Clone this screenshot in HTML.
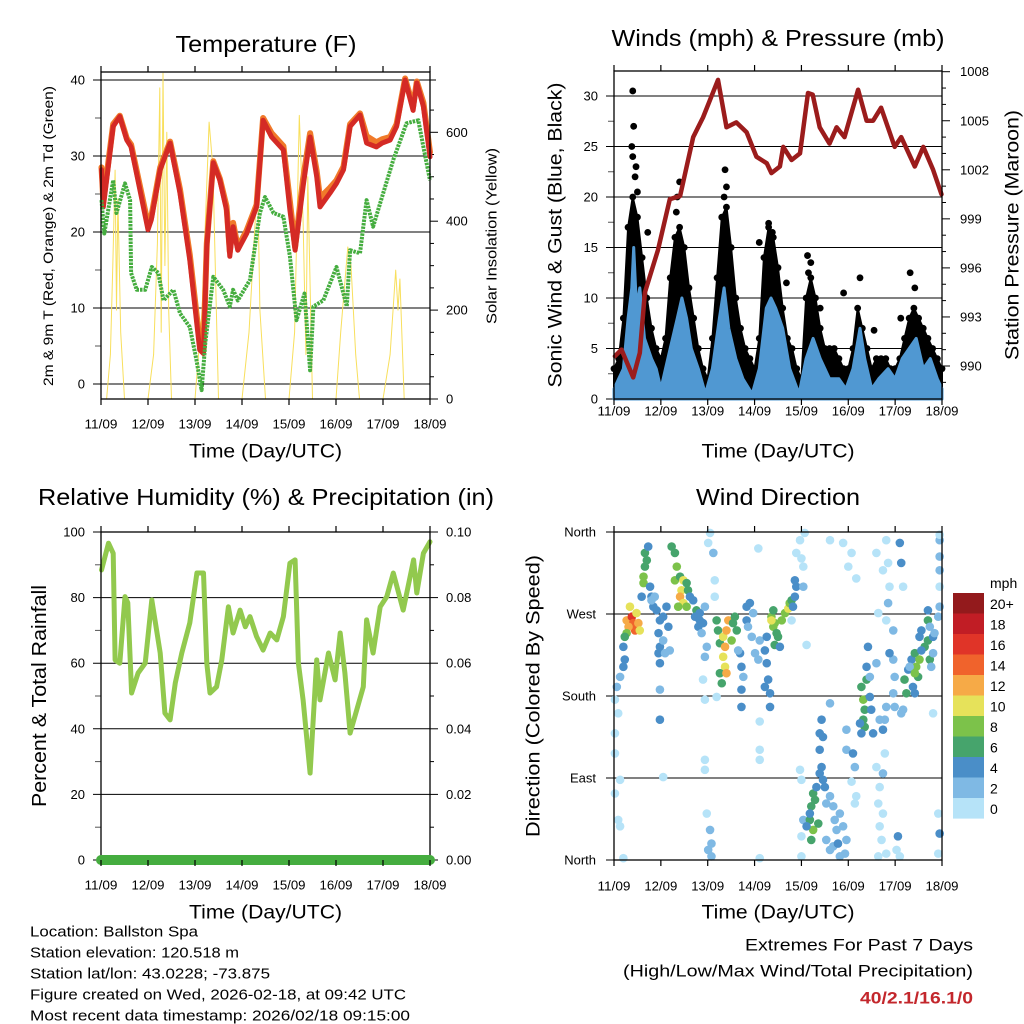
<!DOCTYPE html>
<html><head><meta charset="utf-8"><style>
html,body{margin:0;padding:0;background:#fff}
svg{display:block;font-family:"Liberation Sans",sans-serif}
</style></head><body>
<svg id="fig" xmlns="http://www.w3.org/2000/svg" width="1024" height="1024" viewBox="0 0 1024 1024">
<rect width="1024" height="1024" fill="#fff"/>
</svg>
<script>
// ---------- DATA ----------
const dayLabels = ["11/09","12/09","13/09","14/09","15/09","16/09","17/09","18/09"];
const tempTicks = [0,10,20,30,40];
const solarTicks = [0,200,400,600];
const windTicks = [0,5,10,15,20,25,30];
const presTicks = [990,993,996,999,1002,1005,1008];
const rhTicks = [0,20,40,60,80,100];
const rainTicks = ["0.00","0.02","0.04","0.06","0.08","0.10"];
const dirTicks = ["North","East","South","West","North"];
const speedBins = ["0","2","4","6","8","10","12","14","16","18","20+"];

const tempT = [0.01,0.03,0.05,0.26,0.40,0.55,0.64,0.83,1.0,1.07,1.26,1.47,1.68,1.89,2.1,2.18,2.25,2.39,2.53,2.67,2.74,2.81,2.91,3.1,3.31,3.45,3.63,3.88,4.02,4.13,4.3,4.45,4.59,4.66,4.87,5.01,5.16,5.3,5.51,5.65,5.86,5.98,6.15,6.29,6.47,6.64,6.72,6.86,7.0];
const tempRed = [28.2,26,23.3,33.9,35.2,32.1,31.2,25.5,20.3,21.6,28.2,31.7,25.1,16.3,4.5,4.0,18.1,29.1,26.8,22.9,16.8,20.7,17.6,19.8,23.3,34.7,32.5,30.8,22.9,17.6,26,32.5,27.3,23.3,25.1,26.4,28.2,33.9,35.4,31.7,31.2,31.7,32.1,33.9,40,36,39.6,36.5,29.9];
const tempOrange = [28.5,26.5,24,34.2,35.3,32.3,31.5,26,21,22,28.5,31.9,25.6,17,5.5,4.6,18.5,29.3,27,23.4,17.4,21.2,18,20.2,23.6,35,33,31.3,24,18,27,33,28,24.5,25.8,26.8,28.6,34.2,35.6,32.6,31.8,32.2,32.5,34.2,40.2,36.5,39.8,37,30.5];
const dewT = [0.01,0.07,0.26,0.33,0.51,0.62,0.64,0.76,0.94,1.08,1.22,1.33,1.54,1.68,1.89,2.03,2.14,2.22,2.39,2.6,2.74,2.81,2.91,3.17,3.38,3.49,3.67,3.88,4.02,4.16,4.33,4.45,4.52,4.73,5.01,5.23,5.3,5.51,5.65,5.79,5.94,6.22,6.5,6.75,6.86,7.0];
const dewVal = [24.2,19.8,26.8,22.5,26.4,24.2,14.6,12.4,12.4,15.4,14.6,11,12.4,9.3,7.5,3.2,-0.8,5.4,14.1,12.4,10.2,12.4,11,13.7,22.5,24.6,22.5,22,16.8,8.4,11.9,1.8,10.2,11,15.4,10.2,17.6,17.2,24.2,20.7,23.8,29.5,34.3,34.7,31.2,26.8];
const solarT = [0,0.12,0.2,0.25,0.3,0.33,0.36,0.42,0.5,1.0,1.12,1.2,1.25,1.28,1.32,1.36,1.4,1.44,1.5,2.0,2.15,2.3,2.38,2.5,3.0,3.15,3.28,3.33,3.38,3.5,4.0,4.12,4.22,4.3,4.36,4.4,4.5,5.0,5.1,5.25,5.32,5.42,5.5,6.0,6.15,6.27,6.32,6.36,6.45,7.0];
const solarVal = [0,0,100,300,515,200,450,150,0,0,100,350,700,150,733,300,600,200,0,0,200,623,520,0,0,150,400,515,200,0,0,150,638,400,100,500,0,0,150,342,300,100,0,0,100,290,200,270,0,0];

const presT = [0.02,0.16,0.41,0.55,0.66,0.94,1.19,1.41,1.69,1.9,2.22,2.4,2.61,2.83,3.04,3.26,3.36,3.54,3.61,3.79,3.97,4.14,4.24,4.39,4.6,4.75,4.92,5.21,5.39,5.53,5.7,5.99,6.13,6.42,6.6,6.81,6.99];
const presVal = [990.6,991,989.3,990.8,994.5,997.1,1000.2,1000.4,1004,1005.2,1007.5,1004.6,1004.9,1004.3,1002.8,1002.4,1001.8,1002.2,1003.4,1002.6,1003,1006.7,1006.6,1004.6,1003.6,1004.6,1004,1006.9,1005,1005,1005.8,1003.4,1004,1002.2,1003.4,1002,1000.5];
const windT = [0,0.1,0.2,0.3,0.38,0.42,0.48,0.55,0.65,0.8,0.9,1.0,1.1,1.2,1.35,1.45,1.55,1.65,1.8,1.95,2.1,2.25,2.35,2.45,2.6,2.75,2.95,3.1,3.25,3.35,3.45,3.6,3.75,3.95,4.1,4.25,4.4,4.6,4.8,4.95,5.1,5.25,5.35,5.5,5.65,5.85,6.0,6.15,6.3,6.45,6.6,6.75,6.9,7.0];
const windVal = [1,2,3,8,11,15,9,11,6,4,3,1,3,5,8,10,8,5,3,0.5,3,8,11,7,4,2,0.5,3,9,10,9,7,3,0.5,4,6,4,2,2,1,3,7,4,1,2,3,2,4,5,6,3,4,2,1];
const gustTop = [3,4,8,17,20,18,14,10,7,5,4,6,12,16,17,15,11,8,5,3,2,6,12,18,19,15,10,7,5,4,3,6,14,17,16,13,9,6,5,3,2,10,12,10,7,5,5,5,4,3,3,5,9,7,5,3,4,4,4,3,3,4,6,8,9,8,7,6,5,4,3];
const gustPeakT = [0.4,0.42,0.45,0.4,0.5,0.72,1.4,1.35,2.37,2.35,3.3,3.38,3.1,4.13,4.2,4.4,4.9,5.25,5.55,6.12,6.32,6.42,3.68,0.38,0.47,1.33,2.4,3.33,4.15];
const gustPeakV = [30.5,27,22,24,20.5,16.5,21.5,20,22.7,20,17.4,16.5,15.5,14.2,13.5,9,10.5,12,6.8,8,12.5,11,11.5,25,23,18.5,21,16,12.5];

const rhT = [0.01,0.16,0.26,0.3,0.4,0.51,0.57,0.65,0.79,0.94,1.08,1.26,1.36,1.47,1.58,1.72,1.89,2.04,2.18,2.25,2.32,2.46,2.57,2.71,2.81,2.96,3.07,3.17,3.31,3.45,3.6,3.74,3.88,4.02,4.13,4.2,4.3,4.45,4.59,4.66,4.84,4.98,5.09,5.19,5.3,5.44,5.58,5.65,5.79,5.94,6.08,6.22,6.43,6.65,6.72,6.86,7.0];
const rhVal = [88.4,96.6,93.5,61,60,80.3,78.4,50.9,57,60,79.3,63.1,44.8,42.7,54,63.1,72.3,87.5,87.5,60,50.9,52.8,61,77.2,69.2,76.2,71.1,74.2,68.1,64,69.2,67.1,74.2,90.5,91.5,60,48.8,26.5,61,48.8,63.1,54.9,69.2,57,38.7,45.7,52.8,73.2,63.1,77.2,80.3,87.5,76.2,91.5,81.4,93.5,97];
const rainT = [0,7];
const rainVal = [0,0];

// wind direction observations: [day, degrees, speed mph]
const dirObs = [
[0.27,263,12],[0.38,267,16],[0.41,260,14],[0.45,252,14],[0.52,260,12],[0.34,278,10],[0.48,271,10],[0.31,256,13],[0.55,252,10],[0.27,249,8],[0.23,245,6],
[0.2,234,4],[0.23,220,4],[0.2,212,4],[0.13,201,2],[0.06,190,2],[0.02,176,1],[0.09,161,1],[0.02,139,1],[0.02,117,1],[0.13,88,1],[0.02,73,1],[0.09,44,1],[0.13,37,1],[0.2,2,1],
[0.66,337,6],[0.66,322,6],[0.63,311,8],[0.63,304,8],[0.7,329,6],[0.73,344,4],[0.59,289,4],[0.77,300,4],[0.8,289,4],[0.84,278,4],[0.91,274,4],[0.98,263,4],[0.95,249,4],[0.98,234,4],[1.05,267,4],[1.12,278,4],[1.16,256,4],[1.05,241,2],[0.95,227,4],[0.98,216,4],[1.19,230,2],[1.09,227,2],[0.98,187,2],[0.98,154,4],[1.05,91,1],[0.8,285,2],[0.87,289,2],
[1.23,344,6],[1.3,337,6],[1.34,322,8],[1.3,307,8],[1.41,311,6],[1.48,307,10],[1.44,296,10],[1.41,289,12],[1.48,282,10],[1.37,278,8],[1.55,278,8],[1.58,296,6],[1.55,304,6],[1.62,289,4],[1.69,285,4],[1.76,274,6],[1.73,267,4],[1.83,263,4],[1.8,256,4],[1.9,260,4],[1.87,249,2],[1.83,271,4],[1.94,278,2],[1.98,234,2],[1.94,223,2],[2.15,307,1],[2.15,289,1],[2.12,337,2],[2.01,348,1],[2.05,359,1],[1.98,51,1],[2.05,33,2],[2.08,18,2],[2.01,11,2],[2.08,4,2],[1.94,110,1],[1.94,99,1],[1.94,176,1],[2.19,179,1],[1.9,198,1],
[2.19,263,6],[2.22,252,6],[2.26,238,6],[2.33,245,10],[2.4,252,12],[2.37,234,12],[2.33,223,10],[2.37,212,10],[2.26,205,6],[2.3,194,6],[2.44,263,12],[2.54,260,6],[2.58,267,6],[2.51,241,8],[2.62,252,6],[2.4,205,12],[2.69,227,4],[2.72,212,4],[2.76,201,2],[2.72,187,4],[2.65,230,2],[2.83,278,4],[2.9,282,4],[2.83,263,4],[2.86,256,2],[2.97,271,2],[2.94,245,2],[3.01,227,2],[3.08,220,2],[3.11,241,2],[3.22,230,4],[3.26,216,4],[3.29,198,4],[3.22,190,4],[3.33,183,4],[3.33,168,4],[3.11,152,1],[2.72,168,4],[3.08,342,1],[3.11,121,1],[3.11,110,1],[3.11,2,1],
[3.36,267,8],[3.4,256,8],[3.47,249,6],[3.43,260,8],[3.58,263,8],[3.65,271,8],[3.72,276,10],[3.75,282,8],[3.79,285,6],[3.82,278,4],[3.86,289,4],[3.89,300,4],[3.86,307,4],[3.4,274,6],[3.36,263,10],[3.5,245,6],[3.43,236,6],[3.54,234,4],[3.26,245,4],[3.79,263,1],[4.04,300,2],[4.04,322,1],[3.89,337,1],[3.97,351,1],[4.07,359,1],[4.0,331,1],[4.11,236,1],
[3.97,99,1],[4.0,88,1],[4.04,44,2],[4.0,26,1],[4.0,4,1],[4.25,73,6],[4.21,59,6],[4.18,44,6],[4.25,33,8],[4.21,22,6],[4.18,51,4],[4.11,37,4],[4.29,66,6],[4.36,40,6],[4.32,80,4],[4.39,95,4],[4.46,88,4],[4.43,102,4],[4.39,121,4],[4.46,135,4],[4.39,139,4],[4.5,80,4],[4.61,70,2],[4.68,59,2],[4.71,44,2],[4.75,33,2],[4.82,51,2],[4.89,37,2],[4.96,22,2],[4.93,7,2],[4.82,4,2],[4.68,15,2],[4.78,18,4],[4.53,22,2],[4.61,11,2],[4.43,154,4],[4.53,62,2],[4.96,121,2],[5.1,117,4],[5.14,102,2],[4.61,172,2],[4.96,143,2],[5.07,86,1],[5.17,70,1],[5.14,62,1],[4.61,351,1],[4.89,348,1],[5.07,337,1],[5.0,322,1],[5.17,309,1],
[5.28,190,6],[5.32,176,8],[5.35,165,6],[5.32,154,6],[5.35,146,6],[5.25,150,4],[5.39,198,6],[5.46,179,4],[5.49,165,4],[5.53,139,4],[5.28,139,4],[5.39,212,4],[5.42,234,4],[5.6,216,2],[5.46,201,2],[5.67,154,2],[5.74,143,4],[5.78,154,2],[5.81,168,2],[5.96,183,2],[5.99,201,2],[5.96,220,2],[5.88,227,4],[5.99,168,2],[6.13,161,2],[5.96,252,2],[5.81,263,1],[5.85,282,2],[5.64,271,1],[5.6,337,1],[5.81,351,1],[5.74,318,1],[5.85,326,1],[5.88,300,1],[6.17,300,1],[6.1,348,4],[6.13,326,4],[5.6,102,1],[5.67,80,1],[5.74,95,2],[5.64,62,1],[5.67,37,1],[5.71,22,1],[5.81,7,1],[5.64,4,1],[5.74,51,1],[6.06,26,4],[6.03,11,1],[6.1,4,1],[5.78,117,1],
[6.2,198,6],[6.24,183,6],[6.28,209,4],[6.35,220,4],[6.42,227,6],[6.45,212,8],[6.49,201,6],[6.38,190,4],[6.42,183,4],[6.52,245,4],[6.56,252,4],[6.63,234,6],[6.7,241,6],[6.7,263,6],[6.74,220,6],[6.81,245,4],[6.81,227,2],[6.7,274,4],[6.77,212,2],[6.84,249,2],[6.56,230,4],[6.31,212,2],[6.52,220,8],[6.42,205,8],[6.17,165,2],[6.74,256,2],[6.92,267,2],[6.95,278,2],[6.95,300,1],[6.95,318,2],[6.95,333,2],[6.95,351,2],[6.95,357,1],[6.92,51,1],[6.95,29,4],[6.92,7,1],[6.81,161,1]
];

// ---------- RENDER ----------
const NS = "http://www.w3.org/2000/svg";
const svg = document.getElementById("fig");
function mk(tag, attrs, parent) {
  const e = document.createElementNS(NS, tag);
  for (const k in attrs) e.setAttribute(k, attrs[k]);
  (parent || svg).appendChild(e);
  return e;
}
function txt(s, x, y, size, anchor, parent, extra) {
  const a = {x:x, y:y, "font-size":size, "text-anchor":anchor||"middle", "dominant-baseline":"central", fill:"#000"};
  if (extra) for (const k in extra) a[k] = extra[k];
  const t = mk("text", a, parent);
  t.textContent = s;
  return t;
}
const P = {
  temp:{x0:101,x1:430,y0:72,y1:399},
  wind:{x0:614,x1:942,y0:71,y1:399},
  rh:{x0:101,x1:430,y0:532,y1:860},
  dir:{x0:614,x1:942,y0:532,y1:860}
};
function xs(p, t){ return p.x0 + t*(p.x1-p.x0)/7; }
const yTemp = v => 384 - v*7.6;
const ySolar = v => 399 - v*0.4445;
const yWind = v => 399 - v*10.1;
const yPres = v => 366 - (v-990)*16.35;
const yRH = v => 860 - v*3.28;
const yRain = v => 860 - v*3280;
const yDir = d => 860 - d*328/360;

function pts(p, T, V, fy){ return T.map((t,i)=> xs(p,t).toFixed(1)+","+fy(V[i]).toFixed(1)).join(" "); }

function dayAxis(p, labelY, titleY, g) {
  for (let i=0;i<8;i++){
    const x = xs(p,i);
    mk("line",{x1:x,y1:p.y1,x2:x,y2:p.y1+6,stroke:"#000","stroke-width":1.2},g);
    mk("line",{x1:x,y1:p.y0,x2:x,y2:p.y0-6,stroke:"#000","stroke-width":1.2},g);
    const l = txt(dayLabels[i], x, labelY, 13, "middle", g, {textLength:33, lengthAdjust:"spacingAndGlyphs"});
    
    
  }
  const tt = txt("Time (Day/UTC)", (p.x0+p.x1)/2, titleY, 19, "middle", g, {textLength:153, lengthAdjust:"spacingAndGlyphs"});
  
  
}
function frame(p, g){
  const f = mk("rect",{x:p.x0,y:p.y0,width:p.x1-p.x0,height:p.y1-p.y0,fill:"none",stroke:"#000","stroke-width":1.3},g);
  
  
}
function grid(p, y, g){
  const l = mk("line",{x1:p.x0-8,y1:y,x2:p.x1,y2:y,stroke:"#000","stroke-width":1},g);
  
  
}
function rightTick(p, y, g, len){ mk("line",{x1:p.x1,y1:y,x2:p.x1+(len||6),y2:y,stroke:"#000","stroke-width":1},g); }
function leftMinor(p, y, g){ mk("line",{x1:p.x0-6,y1:y,x2:p.x0,y2:y,stroke:"#555","stroke-width":1},g); }

// ===== Temperature panel =====
const gT = mk("g",{});


const tTitle = txt("Temperature (F)", 266, 44, 23, "middle", gT, {textLength:181, lengthAdjust:"spacingAndGlyphs"});


tempTicks.forEach(v=>{
  grid(P.temp, yTemp(v), gT);
  const l = txt(String(v), 85, yTemp(v), 13, "end", gT);
  
  
});
[5,15,25,35].forEach(v=>leftMinor(P.temp, yTemp(v), gT));
mk("line",{x1:P.temp.x0,y1:80,x2:P.temp.x1+6,y2:80,stroke:"#000","stroke-width":1},gT);
solarTicks.forEach(v=>{
  rightTick(P.temp, ySolar(v), gT, 8);
  const l = txt(String(v), 446, ySolar(v), 13, "start", gT);
  
  
});
for (let v=50; v<700; v+=50) if (v%200) rightTick(P.temp, ySolar(v), gT, 4);
const solarLine = mk("polyline",{points:pts(P.temp, solarT, solarVal, ySolar), fill:"none", stroke:"#f8df5c","stroke-width":1,"stroke-linejoin":"round"}, gT);


const orangeLine = mk("polyline",{points:pts(P.temp, tempT, tempOrange, yTemp), fill:"none", stroke:"#f07a2a","stroke-width":6,"stroke-linejoin":"round","stroke-linecap":"round"}, gT);


const redLine = mk("polyline",{points:pts(P.temp, tempT, tempRed, yTemp), fill:"none", stroke:"#d42a25","stroke-width":5,"stroke-linejoin":"round","stroke-linecap":"round"}, gT);


const dewLine = mk("polyline",{points:pts(P.temp, dewT, dewVal, yTemp), fill:"none", stroke:"#45ad3f","stroke-width":4,"stroke-dasharray":"2.5 1","stroke-linejoin":"round"}, gT);


frame(P.temp, gT);
dayAxis(P.temp, 424, 452, gT);
const tyl = txt("2m & 9m T (Red, Orange) & 2m Td (Green)", 0, 0, 14, "middle", gT, {transform:"translate(48,236) rotate(-90)", textLength:300, lengthAdjust:"spacingAndGlyphs"});


const tyr = txt("Solar Insolation (Yellow)", 0, 0, 15, "middle", gT, {transform:"translate(492,236) rotate(-90)", textLength:176, lengthAdjust:"spacingAndGlyphs"});



// ===== Winds panel =====
const gW = mk("g",{});


const wTitle = txt("Winds (mph) & Pressure (mb)", 778, 38, 23, "middle", gW, {textLength:333, lengthAdjust:"spacingAndGlyphs"});


windTicks.forEach(v=>{
  grid(P.wind, yWind(v), gW);
  const l = txt(String(v), 598, yWind(v), 13, "end", gW);
  
  
});
for (let v=2.5; v<32; v+=5) leftMinor(P.wind, yWind(v), gW);
presTicks.forEach(v=>{
  rightTick(P.wind, yPres(v), gW, 8);
  const l = txt(String(v), 960, yPres(v), 13, "start", gW);
  
  
});
for (let v=989; v<1009; v++) if ((v-990)%3) rightTick(P.wind, yPres(v), gW, 4);
const gTimes = gustTop.map((v,i)=>i*0.1);
let gp = xs(P.wind,0)+","+yWind(0)+" "+pts(P.wind, gTimes, gustTop, yWind)+" "+xs(P.wind,7)+","+yWind(0);
const gustArea = mk("polygon",{points:gp, fill:"#000", stroke:"#000","stroke-width":2,"stroke-linejoin":"round"}, gW);


gustTop.forEach((v,i)=>{
  const c = mk("circle",{cx:xs(P.wind,gTimes[i]), cy:yWind(v), r:3.4, fill:"#000"}, gW);
  
  
});
gustPeakT.forEach((t,i)=>{
  const c = mk("circle",{cx:xs(P.wind,t), cy:yWind(gustPeakV[i]), r:3.4, fill:"#000"}, gW);
  
  
});
let wp = xs(P.wind,0)+","+yWind(0)+" "+pts(P.wind, windT, windVal, yWind)+" "+xs(P.wind,7)+","+yWind(0);
const windArea = mk("polygon",{points:wp, fill:"#5098d2", stroke:"#5098d2","stroke-width":3,"stroke-linejoin":"round"}, gW);


const presLine = mk("polyline",{points:pts(P.wind, presT, presVal, yPres), fill:"none", stroke:"#9b1c1c","stroke-width":4.5,"stroke-linejoin":"round","stroke-linecap":"round"}, gW);


frame(P.wind, gW);
dayAxis(P.wind, 411, 452, gW);
const wyl = txt("Sonic Wind & Gust (Blue, Black)", 0, 0, 19, "middle", gW, {transform:"translate(556,235) rotate(-90)", textLength:305, lengthAdjust:"spacingAndGlyphs"});


const wyr = txt("Station Pressure (Maroon)", 0, 0, 19, "middle", gW, {transform:"translate(1013,235) rotate(-90)", textLength:250, lengthAdjust:"spacingAndGlyphs"});



// ===== RH panel =====
const gR = mk("g",{});


const rTitle = txt("Relative Humidity (%) & Precipitation (in)", 266, 497, 23, "middle", gR, {textLength:456, lengthAdjust:"spacingAndGlyphs"});


rhTicks.forEach((v,i)=>{
  grid(P.rh, yRH(v), gR);
  const l = txt(String(v), 85, yRH(v), 13, "end", gR);
  
  
  rightTick(P.rh, yRH(v), gR, 8);
  const r = txt(rainTicks[i], 446, yRH(v), 13, "start", gR);
  
  
});
for (let v=10; v<100; v+=20){ leftMinor(P.rh, yRH(v), gR); rightTick(P.rh, yRH(v), gR, 4); }
const rhLine = mk("polyline",{points:pts(P.rh, rhT, rhVal, yRH), fill:"none", stroke:"#92c94e","stroke-width":5,"stroke-linejoin":"round","stroke-linecap":"round"}, gR);


frame(P.rh, gR);
const rainLine = mk("polyline",{points:pts(P.rh, rainT, rainVal, yRain), fill:"none", stroke:"#45ad3f","stroke-width":10,"stroke-linecap":"round"}, gR);


dayAxis(P.rh, 885, 913, gR);
const ryl = txt("Percent & Total Rainfall", 0, 0, 20, "middle", gR, {transform:"translate(40,696) rotate(-90)", textLength:222, lengthAdjust:"spacingAndGlyphs"});



// ===== Wind direction panel =====
const gD = mk("g",{});


const dTitle = txt("Wind Direction", 778, 497, 23, "middle", gD, {textLength:164, lengthAdjust:"spacingAndGlyphs"});


const binColors = ["#b6e3f8","#7fb9e4","#4a8ec8","#46a46c","#7cc24a","#e6e25a","#f6aa47","#f0632c","#e03428","#c11d25","#931a1c"];
dirTicks.forEach((s,i)=>{
  const y = yDir(i*90);
  grid(P.dir, y, gD);
  const l = txt(s, 596, y, 13, "end", gD);
  
  
});
dirObs.forEach(o=>{
  const bin = Math.min(10, Math.floor(o[2]/2));
  const c = mk("circle",{cx:xs(P.dir,o[0]), cy:yDir(o[1]), r:4.3, fill:binColors[bin]}, gD);
  
  
});
frame(P.dir, gD);
dayAxis(P.dir, 886, 913, gD);
const dyl = txt("Direction (Colored By Speed)", 0, 0, 19, "middle", gD, {transform:"translate(534,696) rotate(-90)", textLength:282, lengthAdjust:"spacingAndGlyphs"});


const gC = mk("g",{});


const cbu = txt("mph", 990, 583, 14, "start", gC);


for (let i=0;i<11;i++){
  const k = 10-i;
  const y = 593 + i*20.5;
  const b = mk("rect",{x:953,y:y,width:31,height:20.6,fill:binColors[k]}, gC);
  
  
  const l = txt(speedBins[k], 990, y+11, 14, "start", gC);
  
  
}

// ===== Footer text =====
const info = ["Location: Ballston Spa","Station elevation: 120.518 m","Station lat/lon: 43.0228; -73.875","Figure created on Wed, 2026-02-18, at 09:42 UTC","Most recent data timestamp: 2026/02/18 09:15:00"];
const infoW = [168,209,240,376,380];
info.forEach((s,i)=>{
  const l = txt(s, 30, 932+i*21, 15, "start", svg, {textLength:infoW[i], lengthAdjust:"spacingAndGlyphs"});
  
  
});
const e1 = txt("Extremes For Past 7 Days", 973, 945, 17, "end", svg, {textLength:228, lengthAdjust:"spacingAndGlyphs"});


const e2 = txt("(High/Low/Max Wind/Total Precipitation)", 973, 971, 17, "end", svg, {textLength:350, lengthAdjust:"spacingAndGlyphs"});


const e3 = txt("40/2.1/16.1/0", 973, 998, 17, "end", svg, {textLength:113, lengthAdjust:"spacingAndGlyphs", "font-weight":"bold", fill:"#c3272c"});


</script>
</body></html>
